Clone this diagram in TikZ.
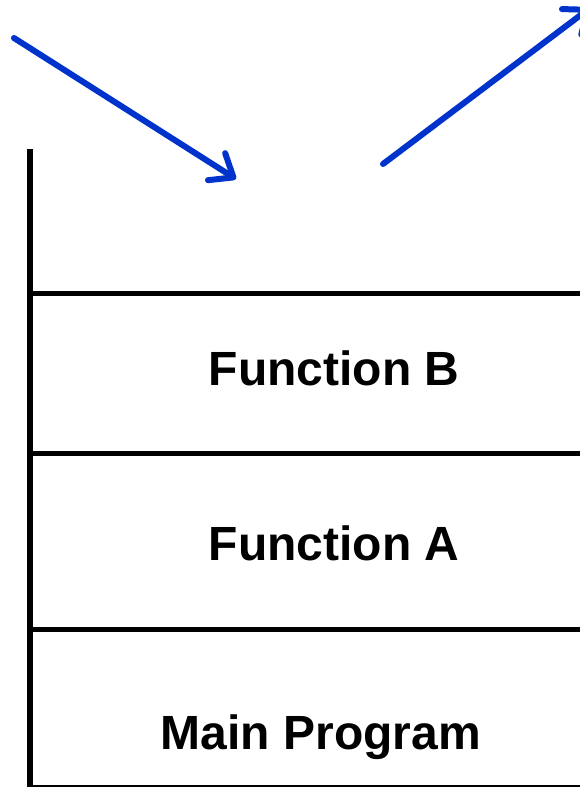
\documentclass[tikz,border=0pt]{standalone}
\usepackage{fontspec}
\setmainfont{Liberation Sans}
\usetikzlibrary{arrows.meta}
\definecolor{pushblue}{RGB}{0,51,204}
\tikzset{
  stackline/.style = {line width = 5pt},
  pointer/.style = {line width = 6pt, draw = pushblue, line cap = round,
    -{Straight Barb[length = 20pt, width = 32pt, line cap = round, line join = round]}},
  framelabel/.style = {font = \fontsize{48}{58}\selectfont\bfseries}
}
\begin{document}
\begin{tikzpicture}[x = 1pt, y = -1pt]
    \useasboundingbox (0,0) rectangle (580,787);
    % stack frame
    \draw[line width = 6pt] (30,149) coordinate (top) -- (30,787) coordinate (bottom);
    \draw[line width = 2pt] (30,786) -- (580,786);
    \draw[stackline] (30,293) coordinate (lineB) -- (580,293);
    \draw[stackline] (30,453) coordinate (lineA) -- (580,453);
    \draw[stackline] (30,629) coordinate (lineM) -- (580,629);
    \node[framelabel] (funcB) at (334,368) {Function B};
    \node[framelabel] (funcA) at (334,543) {Function A};
    \node[framelabel] (mainprog) at (321,737) {Main Program};
    % push and pop
    \coordinate (pushstart) at (14,38);
    \coordinate (pushend) at (236,179);
    \coordinate (popstart) at (383,164);
    \coordinate (popend) at (590,8);
    \draw[pointer] (pushstart) -- (pushend);
    \draw[pointer] (popstart) -- (popend);
\end{tikzpicture}
\end{document}
